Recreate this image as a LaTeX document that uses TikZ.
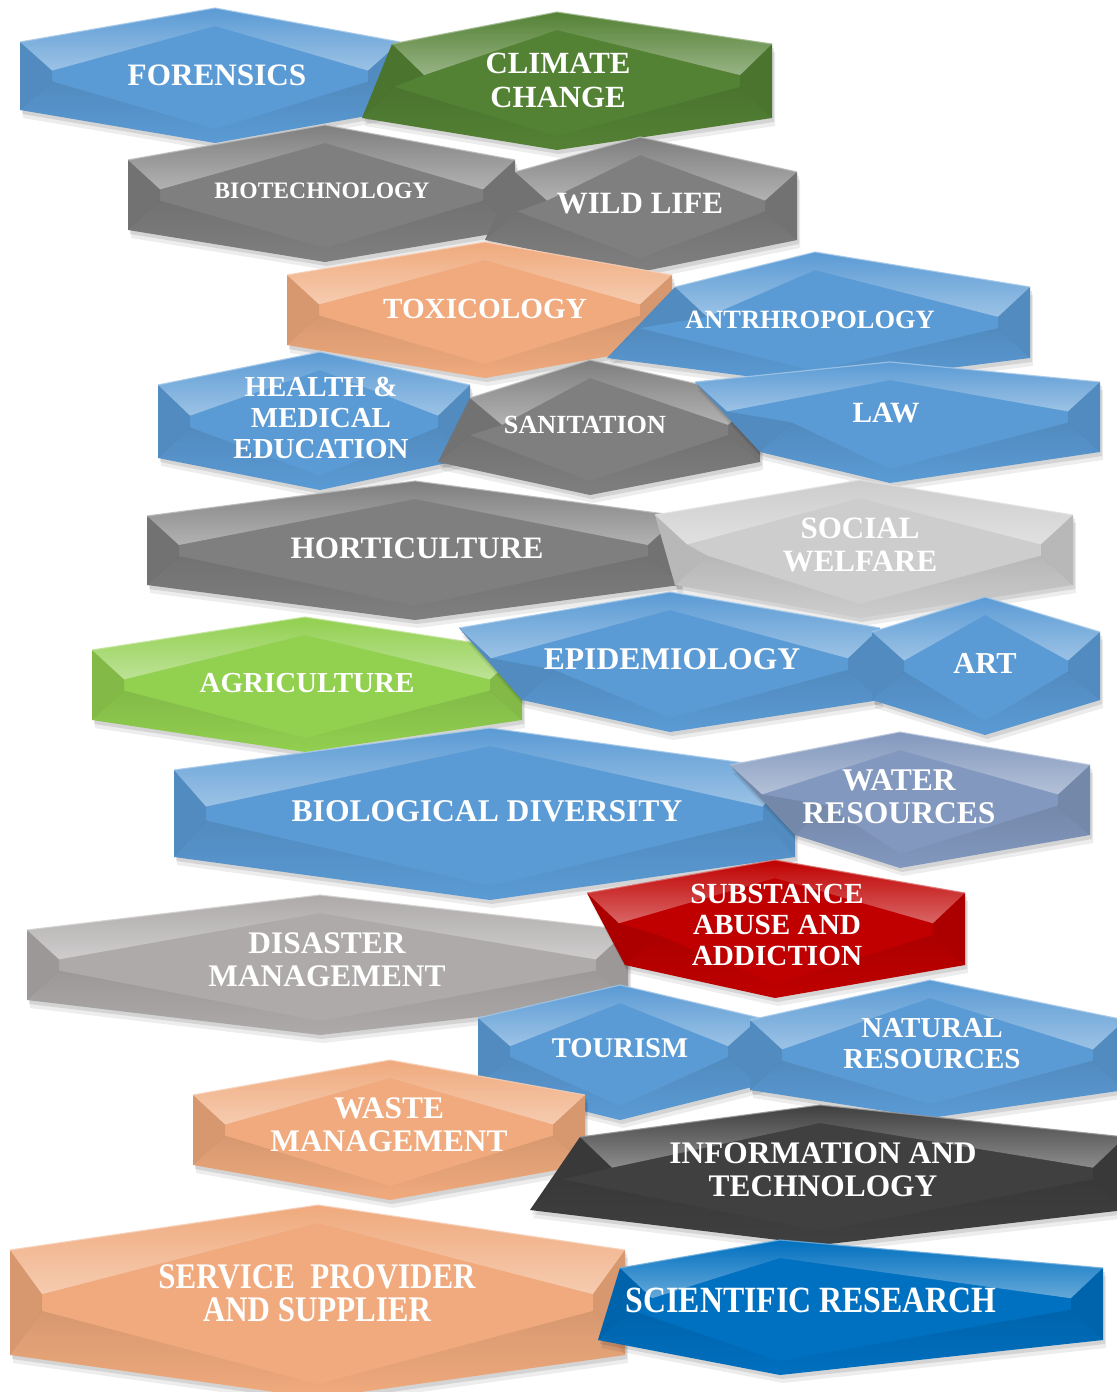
\documentclass[tikz,border=0pt]{standalone}
\usepackage{fontspec}
\usetikzlibrary{fadings}
\setmainfont{Liberation Serif}
\newfontfamily\condfont[FakeStretch=0.86]{Liberation Serif}
\definecolor{blueA}{RGB}{91,155,213}
\definecolor{greenD}{RGB}{84,130,53}
\definecolor{grayM}{RGB}{127,127,127}
\definecolor{orangeL}{RGB}{240,170,125}
\definecolor{grayL}{RGB}{205,205,205}
\definecolor{greenL}{RGB}{146,208,80}
\definecolor{blueGray}{RGB}{130,152,190}
\definecolor{redD}{RGB}{192,0,0}
\definecolor{grayDis}{RGB}{174,170,170}
\definecolor{grayDk}{RGB}{64,64,64}
\definecolor{blueS}{RGB}{0,112,192}
% #1 x0top #2 x0bot #3 xc #4 x1 #5 ytop #6 yside1 #7 yside2 #8 ybot #9 colour
\newcommand\hexa[9]{%
 \fill[black,opacity=.07] ({#1+3},{#6+8}) -- ({#3+3},{#5+8}) -- ({#4+3},{#6+8}) -- ({#4+3},{#7+8}) -- ({#3+3},{#8+8}) -- ({#2+3},{#7+8}) -- cycle;
 \fill[black,opacity=.10] ({#1+2},{#6+4}) -- ({#3+2},{#5+4}) -- ({#4+2},{#6+4}) -- ({#4+2},{#7+4}) -- ({#3+2},{#8+4}) -- ({#2+2},{#7+4}) -- cycle;
 \fill[#9] (#1,#6) -- (#3,#5) -- (#4,#6) -- (#4,#7) -- (#3,#8) -- (#2,#7) -- cycle;
 \fill[white,opacity=.40,path fading=north] (#1,#6) -- (#3,#5) -- (#4,#6) -- ({#4-32},{#6+0.42*(#7-#6)}) -- (#3,{#5+18}) -- ({#1+32},{#6+0.42*(#7-#6)}) -- cycle;
 \fill[black,opacity=.10] (#1,#6) -- ({#1+32},{#6+0.42*(#7-#6)}) -- ({#2+32},{#7-0.42*(#7-#6)}) -- (#2,#7) -- cycle;
 \fill[black,opacity=.10] (#4,#6) -- ({#4-32},{#6+0.42*(#7-#6)}) -- ({#4-32},{#7-0.42*(#7-#6)}) -- (#4,#7) -- cycle;
 \fill[black,opacity=.10,path fading=south] (#2,#7) -- ({#2+32},{#7-0.42*(#7-#6)}) -- (#3,{#8-14}) -- ({#4-32},{#7-0.42*(#7-#6)}) -- (#4,#7) -- (#3,#8) -- cycle;
 \draw[#9!55!white,line width=0.6pt,opacity=.8] (#1,#6) -- (#3,#5) -- (#4,#6);
}
\tikzset{
 txt/.style={text=white, align=center, inner sep=0pt, font=\bfseries\fontsize{#1}{#1}\selectfont},
 ctxt/.style={text=white, align=center, inner sep=0pt, font=\condfont\bfseries\fontsize{#1}{#1}\selectfont}
}
\begin{document}
\begin{tikzpicture}[x=0.5pt,y=-0.5pt]
\useasboundingbox[fill=white] (0,0) rectangle (1116,1392);
% row 1
\hexa{20}{20}{215}{400}{8}{42}{110}{143}{blueA}
\node[txt=15.6] (forensics) at (217,75) {FORENSICS};
\hexa{392}{362}{557}{772}{12}{44}{118}{150}{greenD}
\node[txt=15.4,font=\bfseries\fontsize{15.4}{17}\selectfont] (climate) at (558,80) {CLIMATE\\CHANGE};
% row 2
\hexa{128}{128}{325}{515}{125}{160}{230}{262}{grayM}
\node[txt=11.8] (biotech) at (322,191) {BIOTECHNOLOGY};
\hexa{515}{485}{640}{797}{137}{172}{240}{272}{grayM}
\node[txt=15.5] (wildlife) at (640,204) {WILD LIFE};
% row 3
\hexa{287}{287}{485}{672}{242}{275}{345}{378}{orangeL}
\node[txt=14.6] (toxicology) at (485,309) {TOXICOLOGY};
\hexa{675}{607}{815}{1030}{252}{287}{358}{385}{blueA}
\node[txt=13.2] (anthro) at (810,320) {ANTRHROPOLOGY};
% row 4
\hexa{158}{158}{320}{470}{352}{385}{458}{490}{blueA}
\node[txt=14.5,font=\bfseries\fontsize{14.5}{15.3}\selectfont] (health) at (321,418) {HEALTH \&\\MEDICAL\\EDUCATION};
\hexa{470}{438}{590}{760}{360}{398}{462}{495}{grayM}
\node[txt=13.1] (sanitation) at (585,425) {SANITATION};
\hexa{695}{760}{890}{1100}{362}{382}{452}{483}{blueA}
\node[txt=14.7] (law) at (886,413) {LAW};
% row 5
\hexa{147}{147}{415}{680}{481}{516}{585}{620}{grayM}
\node[txt=15.6] (horti) at (417,548) {HORTICULTURE};
\hexa{655}{675}{860}{1073}{480}{515}{585}{618}{grayL}
\node[txt=15.5,font=\bfseries\fontsize{15.5}{16.5}\selectfont] (social) at (860,545) {SOCIAL\\WELFARE};
% row 6
\hexa{92}{92}{305}{522}{617}{650}{720}{752}{greenL}
\node[txt=14.5] (agri) at (307,683) {AGRICULTURE};
\hexa{459}{522}{670}{880}{592}{628}{700}{732}{blueA}
\node[txt=15.8] (epi) at (672,659) {EPIDEMIOLOGY};
\hexa{872}{872}{985}{1100}{597}{632}{700}{735}{blueA}
\node[txt=15.2] (art) at (985,663) {ART};
% row 7
\hexa{174}{174}{490}{795}{728}{770}{857}{900}{blueA}
\node[txt=15.8] (biodiv) at (487,811) {BIOLOGICAL DIVERSITY};
\hexa{730}{795}{900}{1090}{732}{765}{835}{868}{blueGray}
\node[txt=15.8,font=\bfseries\fontsize{15.8}{16.5}\selectfont] (water) at (899,797) {WATER\\RESOURCES};
% row 8
\hexa{27}{27}{320}{628}{895}{930}{1000}{1035}{grayDis}
\node[txt=15.7,font=\bfseries\fontsize{15.7}{16.5}\selectfont] (disaster) at (327,960) {DISASTER\\MANAGEMENT};
\hexa{587}{625}{775}{965}{860}{893}{965}{998}{redD}
\node[txt=14.6,font=\bfseries\fontsize{14.6}{15.3}\selectfont] (substance) at (777,925) {SUBSTANCE\\ABUSE AND\\ADDICTION};
% row 9
\hexa{478}{478}{620}{760}{985}{1018}{1085}{1120}{blueA}
\node[txt=14.3] (tourism) at (620,1048) {TOURISM};
\hexa{750}{750}{930}{1125}{980}{1020}{1090}{1118}{blueA}
\node[txt=14.5,font=\bfseries\fontsize{14.5}{15.5}\selectfont] (natural) at (932,1044) {NATURAL\\RESOURCES};
% row 10
\hexa{193}{193}{390}{585}{1060}{1095}{1165}{1200}{orangeL}
\node[txt=15.7,font=\bfseries\fontsize{15.7}{16.5}\selectfont] (waste) at (389,1125) {WASTE\\MANAGEMENT};
\hexa{580}{530}{820}{1125}{1105}{1137}{1210}{1245}{grayDk}
\node[txt=15.7,font=\bfseries\fontsize{15.7}{16.5}\selectfont] (infotech) at (823,1170) {INFORMATION AND\\TECHNOLOGY};
% row 11
\hexa{10}{10}{318}{625}{1205}{1250}{1355}{1398}{orangeL}
\node[ctxt=18,font=\condfont\bfseries\fontsize{18}{16.5}\selectfont] (service) at (317,1293) {SERVICE\ \ PROVIDER\\AND SUPPLIER};
\hexa{620}{598}{780}{1103}{1240}{1268}{1340}{1375}{blueS}
\node[ctxt=18.5] (scientific) at (811,1300) {SCIENTIFIC RESEARCH};
\end{tikzpicture}
\end{document}
